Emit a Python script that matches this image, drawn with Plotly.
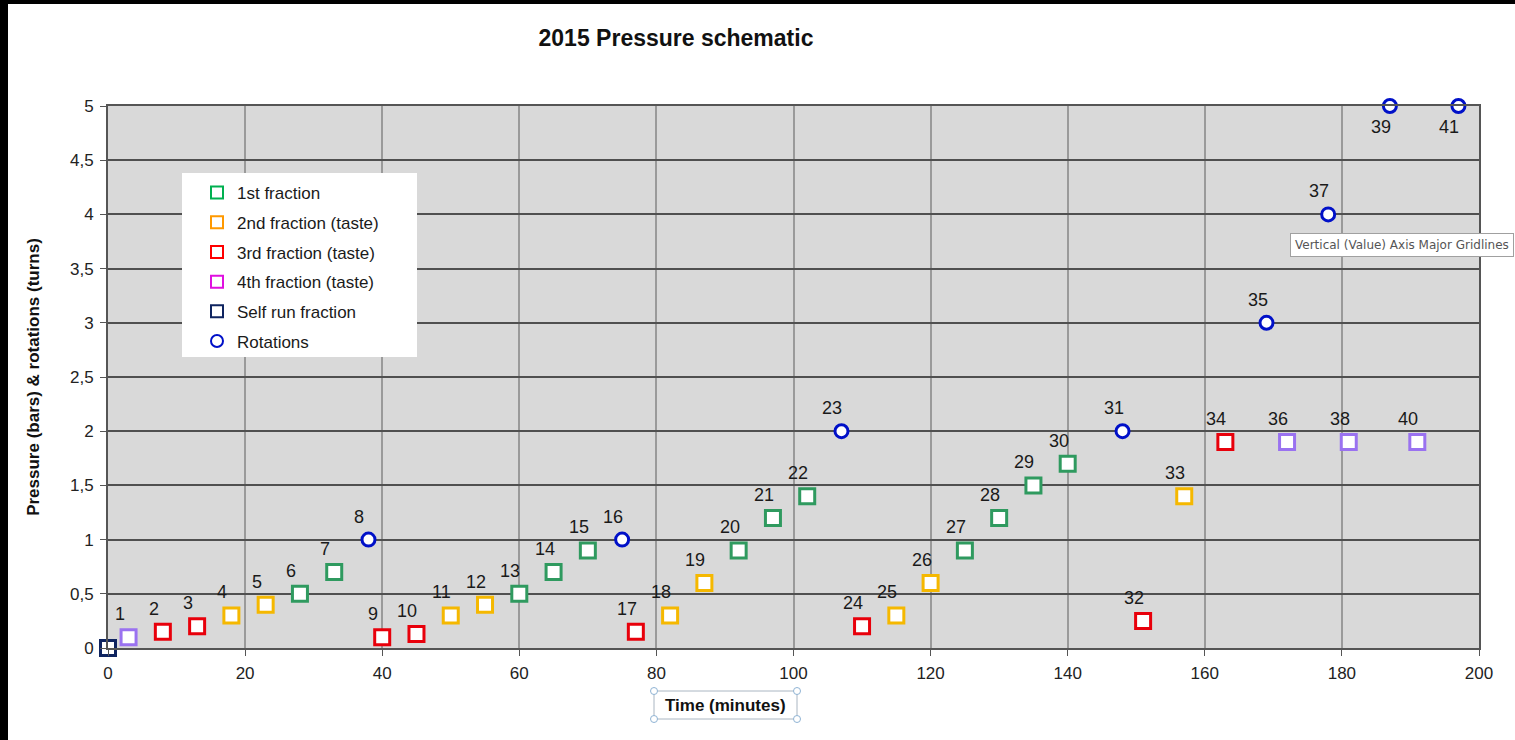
import plotly.graph_objects as go

# Point number, time (minutes) and reading for every step of the run
point_ids = list(range(0, 42))
times = [0, 3, 8, 13, 18, 23, 28, 33, 38, 40, 45, 50, 55, 60, 65, 70, 75, 77, 82, 87,
         92, 97, 102, 107, 110, 115, 120, 125, 130, 135, 140, 148, 151, 157, 163, 169,
         172, 178, 181, 187, 191, 197]
values = [0, 0.1, 0.15, 0.2, 0.3, 0.4, 0.5, 0.7, 1.0, 0.1, 0.13, 0.3, 0.4, 0.5, 0.7,
          0.9, 1.0, 0.15, 0.3, 0.6, 0.9, 1.2, 1.4, 2.0, 0.2, 0.3, 0.6, 0.9, 1.2, 1.5,
          1.7, 2.0, 0.25, 1.4, 1.9, 3.0, 1.9, 4.0, 1.9, 5.0, 1.9, 5.0]
kinds = ["self", "f4", "f3", "f3", "f2", "f2", "f1", "f1", "rot", "f3", "f3", "f2",
         "f2", "f1", "f1", "f1", "rot", "f3", "f2", "f2", "f1", "f1", "f1", "rot", "f3",
         "f2", "f2", "f1", "f1", "f1", "f1", "rot", "f3", "f2", "f3", "rot", "f4", "rot",
         "f4", "rot", "f4", "rot"]

series_names = {
    "f1": "1st fraction",
    "f2": "2nd fraction (taste)",
    "f3": "3rd fraction (taste)",
    "f4": "4th fraction (taste)",
    "self": "Self run fraction",
    "rot": "Rotations",
}
legend_order = ["f1", "f2", "f3", "f4", "self", "rot"]
point_colors = {"f1": "#2f9a5f", "f2": "#f5b800", "f3": "#e8000b", "f4": "#9a72f0",
                "self": "#0f2460", "rot": "#0010c8"}
legend_colors = {"f1": "#00b050", "f2": "#ff9900", "f3": "#ff0000", "f4": "#e010e0",
                 "self": "#0f2460", "rot": "#0010c8"}

x_ticks = list(range(0, 201, 20))
y_ticks = [0, 0.5, 1, 1.5, 2, 2.5, 3, 3.5, 4, 4.5, 5]

FONT = "Liberation Sans, Arial, sans-serif"
W, H = 1515, 740
L, R, T, B = 108, 1479, 106, 648   # plot area edges in page pixels


def px(xp):
    return (xp - L) / (R - L)


def py(yp):
    return (B - yp) / (B - T)


fig = go.Figure()

for k in legend_order:
    xs = [t for t, kk in zip(times, kinds) if kk == k]
    ys = [v for v, kk in zip(values, kinds) if kk == k]
    symbol = "circle" if k == "rot" else "square"
    fig.add_trace(go.Scatter(
        x=xs, y=ys, mode="markers", showlegend=False, cliponaxis=False,
        marker=dict(symbol=symbol, size=13 if k == "rot" else 15, color="white",
                    line=dict(color=point_colors[k], width=3)),
    ))

# Legend swatches
for k in legend_order:
    symbol = "circle" if k == "rot" else "square"
    fig.add_trace(go.Scatter(
        x=[None], y=[None], mode="markers", name=series_names[k], legendgroup=k,
        marker=dict(symbol=symbol, size=10 if k != "rot" else 12, color="white",
                    line=dict(color=legend_colors[k], width=3)),
    ))

# Point number labels
annotations = []
for pid, t, v in zip(point_ids, times, values):
    if pid == 0:
        continue
    below = v >= 5
    annotations.append(dict(
        x=t, y=v, xref="x", yref="y", text=str(pid), showarrow=False,
        xshift=-9, yshift=-21 if below else 23,
        font=dict(family=FONT, size=18, color="#1a1a1a"),
    ))

# Axis title inside its box
annotations.append(dict(
    x=px(725.5), y=py(705), xref="paper", yref="paper", text="<b>Time (minutes)</b>",
    showarrow=False, font=dict(family=FONT, size=17, color="#111"),
    xanchor="center", yanchor="middle",
))
# Hover tip over the gridlines
annotations.append(dict(
    x=px(1290), y=py(244.5), xref="paper", yref="paper",
    text="Vertical (Value) Axis Major Gridlines", showarrow=False,
    font=dict(family="DejaVu Sans, sans-serif", size=12, color="#555"),
    bordercolor="#a0a0a0", borderwidth=1, borderpad=4, bgcolor="white",
    xanchor="left", yanchor="middle",
))

shapes = []
# legend background
shapes.append(dict(type="rect", xref="paper", yref="paper",
                   x0=px(182), x1=px(417), y0=py(357), y1=py(173),
                   line=dict(width=0), fillcolor="white", layer="above"))
# axis title box with its selection handles
shapes.append(dict(type="rect", xref="paper", yref="paper",
                   x0=px(654), x1=px(797), y0=py(719), y1=py(691),
                   line=dict(color="#aab6c2", width=1), fillcolor="white", layer="above"))
for hx, hy in [(654, 691), (797, 691), (654, 719), (797, 719)]:
    shapes.append(dict(type="circle", xref="paper", yref="paper",
                       x0=px(hx - 3.5), x1=px(hx + 3.5), y0=py(hy + 3.5), y1=py(hy - 3.5),
                       line=dict(color="#8fb3d4", width=1), fillcolor="white", layer="above"))
# dark frame strips along the page edges
shapes.append(dict(type="rect", xref="paper", yref="paper",
                   x0=px(-2), x1=px(8), y0=py(W), y1=py(-5),
                   line=dict(width=0), fillcolor="black", layer="above"))
shapes.append(dict(type="rect", xref="paper", yref="paper",
                   x0=px(-2), x1=px(W + 2), y0=py(4), y1=py(-5),
                   line=dict(width=0), fillcolor="black", layer="above"))

fig.update_layout(
    width=W, height=H,
    margin=dict(l=L, r=W - R, t=T, b=H - B),
    paper_bgcolor="white", plot_bgcolor="#d9d9d9",
    separators=",.",
    font=dict(family=FONT, size=16, color="#222"),
    annotations=annotations,
    shapes=shapes,
    title=dict(text="<b>2015 Pressure schematic</b>", x=676 / W, xanchor="center",
               y=1 - 38 / H, yanchor="middle",
               font=dict(family=FONT, size=23, color="#111")),
    legend=dict(x=px(197), y=py(175), xanchor="left", yanchor="top",
                bgcolor="rgba(0,0,0,0)", borderwidth=0, tracegroupgap=4.6,
                font=dict(family=FONT, size=17, color="#1a1a1a"),
                itemsizing="constant"),
    xaxis=dict(range=[0, 200], tickvals=x_ticks, showgrid=True, gridcolor="#9a9a9a",
               gridwidth=1.5, zeroline=False, showline=True, linecolor="#555", linewidth=2,
               mirror=True, ticks="outside", ticklen=6, tickcolor="#555",
               ticklabelstandoff=3,
               tickfont=dict(size=17, color="#222")),
    yaxis=dict(range=[0, 5], tickvals=y_ticks, showgrid=True, gridcolor="#505050",
               gridwidth=1.5, zeroline=False, showline=True, linecolor="#555", linewidth=2,
               mirror=True, ticks="outside", ticklen=6, tickcolor="#555",
               ticklabelstandoff=3,
               tickfont=dict(size=17, color="#222"),
               title=dict(text="<b>Pressure (bars) & rotations (turns)</b>", standoff=26,
                          font=dict(size=17, color="#111"))),
)

fig.write_html("out.html")
